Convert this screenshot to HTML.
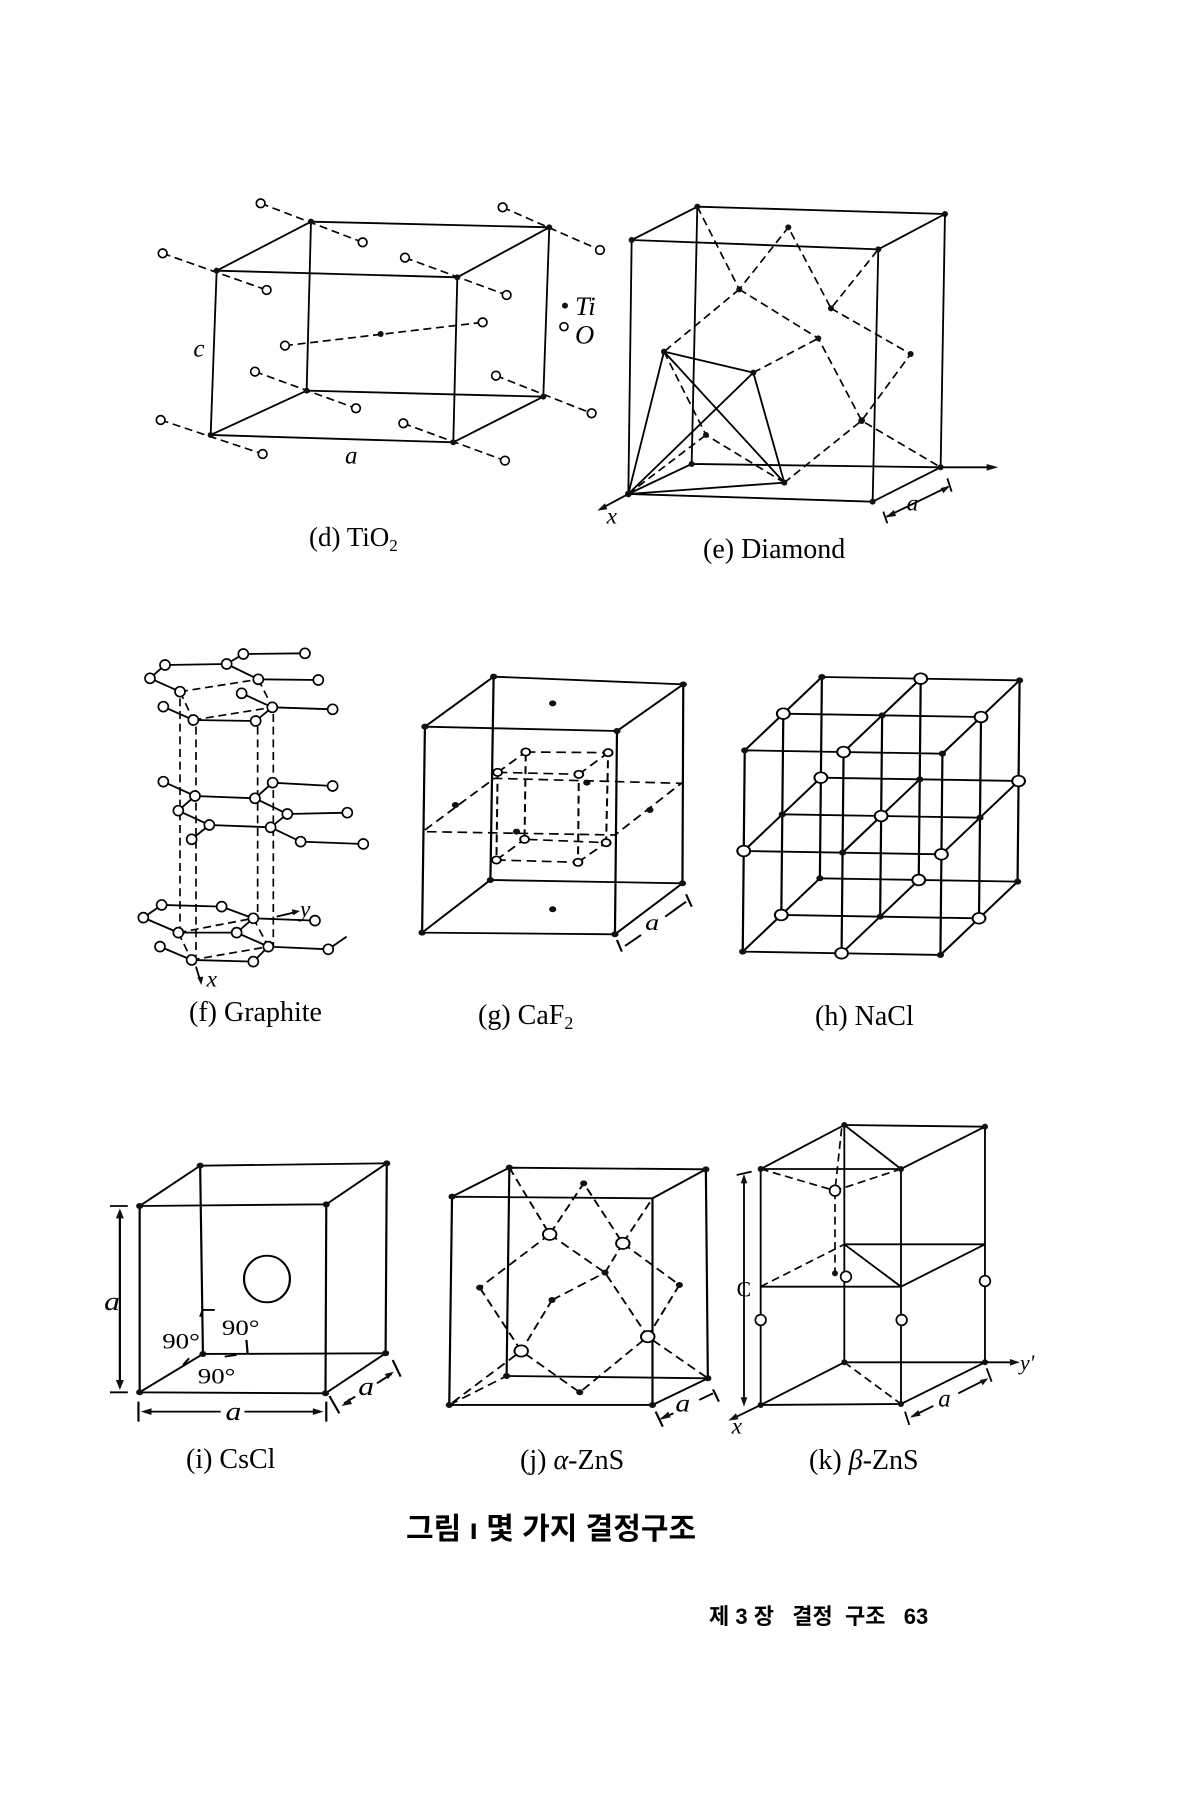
<!DOCTYPE html>
<html><head><meta charset="utf-8"><style>
html,body{margin:0;padding:0;background:#fff;}
svg{display:block;}
.s{stroke:#000;stroke-width:5.5;fill:none;}
.d{stroke:#000;stroke-width:5;fill:none;stroke-dasharray:24 14;}
.o{fill:#fff;stroke:#000;stroke-width:5;}
.k{fill:#111;}
.t{font-family:"Liberation Serif",serif;fill:#000;}
.i{font-family:"Liberation Serif",serif;font-style:italic;fill:#000;}
</style></head><body>
<svg width="1200" height="1800" viewBox="0 0 1200 1800" xmlns="http://www.w3.org/2000/svg">
<rect width="1200" height="1800" fill="#fff"/>

<!-- TiO2 -->
<g transform="translate(140,190) scale(0.3333)">
<path class="s" d="M230,242 L952,262 L940,757 L212,735 Z M513,95 L1228,112 L1210,620 L500,602 Z M230,242 L513,95 M952,262 L1228,112 M940,757 L1210,620 M212,735 L500,602"/>
<path class="d" d="M362,40 L668,157 M68,190 L380,300 M1088,52 L1380,180 M795,203 L1100,315 M435,467 L1028,397 M345,545 L648,655 M1068,557 L1355,670 M62,690 L368,792 M790,700 L1095,812"/>
<g class="o">
<circle cx="362" cy="40" r="13"/><circle cx="668" cy="157" r="13"/><circle cx="68" cy="190" r="13"/><circle cx="380" cy="300" r="13"/>
<circle cx="1088" cy="52" r="13"/><circle cx="1380" cy="180" r="13"/><circle cx="795" cy="203" r="13"/><circle cx="1100" cy="315" r="13"/>
<circle cx="435" cy="467" r="13"/><circle cx="1028" cy="397" r="13"/><circle cx="345" cy="545" r="13"/><circle cx="648" cy="655" r="13"/>
<circle cx="1068" cy="557" r="13"/><circle cx="1355" cy="670" r="13"/><circle cx="62" cy="690" r="13"/><circle cx="368" cy="792" r="13"/>
<circle cx="790" cy="700" r="13"/><circle cx="1095" cy="812" r="13"/><circle cx="1272" cy="410" r="12"/>
</g>
<g class="k">
<circle cx="230" cy="242" r="9"/><circle cx="952" cy="262" r="9"/><circle cx="940" cy="757" r="9"/><circle cx="212" cy="735" r="9"/>
<circle cx="513" cy="95" r="9"/><circle cx="1228" cy="112" r="9"/><circle cx="1210" cy="620" r="9"/><circle cx="500" cy="602" r="9"/>
<circle cx="722" cy="432" r="9"/><circle cx="1275" cy="347" r="9"/>
</g>
<text class="i" x="160" y="500" font-size="75">c</text>
<text class="i" x="615" y="820" font-size="75">a</text>
<text class="i" x="1305" y="375" font-size="80">Ti</text>
<text class="i" x="1305" y="460" font-size="80">O</text>
</g>
<text class="t" x="309" y="546" font-size="27">(d) TiO<tspan font-size="17" dy="5">2</tspan></text>

<!-- Diamond -->
<g transform="translate(590,190) scale(0.3333)">
<path class="s" d="M125,150 L865,178 L848,935 L115,912 Z M322,50 L1065,72 L1052,832 L305,822 M322,50 L305,822 M305,822 L1052,832 M125,150 L322,50 M865,178 L1065,72 M848,935 L1052,832 M115,912 L305,822"/>
<path class="d" d="M322,50 L448,298 L595,112 L723,355 L865,178 M448,298 L222,485 M448,298 L685,445 L815,692 L1052,832 M723,355 L962,492 L815,692 L583,878 M490,548 L685,445 M222,485 L348,735 L583,878 M115,912 L348,735"/>
<path class="s" d="M222,485 L490,548 L583,878 L115,912 Z M222,485 L583,878 M490,548 L115,912"/>
<g class="k">
<circle cx="125" cy="150" r="9"/><circle cx="865" cy="178" r="9"/><circle cx="848" cy="935" r="9"/><circle cx="115" cy="912" r="10"/>
<circle cx="322" cy="50" r="9"/><circle cx="1065" cy="72" r="9"/><circle cx="1052" cy="832" r="9"/><circle cx="305" cy="822" r="9"/>
<circle cx="595" cy="112" r="9"/><circle cx="448" cy="298" r="9"/><circle cx="723" cy="355" r="9"/><circle cx="685" cy="445" r="9"/>
<circle cx="962" cy="492" r="9"/><circle cx="222" cy="485" r="9"/><circle cx="490" cy="548" r="9"/><circle cx="348" cy="735" r="9"/>
<circle cx="815" cy="692" r="10"/><circle cx="583" cy="878" r="9"/>
</g>
<path class="s" d="M1052,832 L1210,832 M115,912 L35,955 M890,980 L1075,890 M880,965 L892,1000 M1072,865 L1085,905"/>
<path class="k" d="M1225,832 L1190,822 L1190,842 Z M22,962 L45,940 L52,958 Z M885,983 L912,960 L918,978 Z M1080,888 L1052,894 L1060,910 Z"/>
<text class="i" x="50" y="1000" font-size="70">x</text>
<text class="i" x="950" y="962" font-size="70">a</text>
</g>
<text class="t" x="703" y="558" font-size="28">(e) Diamond</text>

<!-- Graphite -->
<g transform="translate(110,640) scale(0.3333)">
<path class="d" d="M210,155 L445,118 M210,155 L250,240 M250,240 L487,202 M445,118 L487,202 M210,175 L210,870 M258,260 L258,950 M443,260 L443,835 M490,222 L490,920 M205,878 L430,835 M245,960 L475,920 M205,878 L245,960 M430,835 L475,920"/>
<path class="s" d="M165,75 L350,72 L400,42 L585,40 M120,115 L165,75 M120,115 L210,155 M350,72 L445,118 L625,120 M395,160 L487,202 L668,208 M250,240 L437,243 L487,202 M160,200 L250,240
M160,425 L255,468 L435,475 L488,428 L668,438 M255,468 L205,512 M435,475 L532,522 L712,518 M205,512 L298,555 L482,562 L532,522 M482,562 L572,605 L760,612 M298,555 L245,598
M155,795 L335,800 M100,833 L155,795 M100,833 L205,878 M335,800 L430,835 L615,842 M205,878 L380,878 L430,835 M380,878 L475,920 L655,928 L710,890 M150,920 L245,960 L430,965 L475,920
M500,830 L555,817 M258,980 L270,1020"/>
<path class="k" d="M570,813 L545,808 L550,826 Z M274,1035 L262,1012 L280,1010 Z"/>
<g class="o">
<circle cx="165" cy="75" r="15"/><circle cx="350" cy="72" r="15"/><circle cx="400" cy="42" r="15"/><circle cx="585" cy="40" r="15"/>
<circle cx="120" cy="115" r="15"/><circle cx="210" cy="155" r="15"/><circle cx="445" cy="118" r="15"/><circle cx="625" cy="120" r="15"/>
<circle cx="395" cy="160" r="15"/><circle cx="487" cy="202" r="15"/><circle cx="668" cy="208" r="15"/><circle cx="250" cy="240" r="15"/>
<circle cx="437" cy="243" r="15"/><circle cx="160" cy="200" r="15"/>
<circle cx="160" cy="425" r="15"/><circle cx="255" cy="468" r="15"/><circle cx="435" cy="475" r="15"/><circle cx="488" cy="428" r="15"/>
<circle cx="668" cy="438" r="15"/><circle cx="205" cy="512" r="15"/><circle cx="532" cy="522" r="15"/><circle cx="712" cy="518" r="15"/>
<circle cx="298" cy="555" r="15"/><circle cx="482" cy="562" r="15"/><circle cx="572" cy="605" r="15"/><circle cx="760" cy="612" r="15"/><circle cx="245" cy="598" r="15"/>
<circle cx="155" cy="795" r="15"/><circle cx="335" cy="800" r="15"/><circle cx="100" cy="833" r="15"/><circle cx="430" cy="835" r="15"/>
<circle cx="615" cy="842" r="15"/><circle cx="205" cy="878" r="15"/><circle cx="380" cy="878" r="15"/><circle cx="150" cy="920" r="15"/>
<circle cx="475" cy="920" r="15"/><circle cx="655" cy="928" r="15"/><circle cx="245" cy="960" r="15"/><circle cx="430" cy="965" r="15"/>
</g>
<text class="i" x="570" y="830" font-size="70">y</text>
<text class="i" x="290" y="1040" font-size="70">x</text>
</g>
<text class="t" x="189" y="1021" font-size="28">(f) Graphite</text>

<!-- CaF2 & NaCl -->
<g transform="translate(400,650) scale(0.4018,0.3333)">
<path class="s" d="M62,230 L540,243 L535,853 L55,848 Z M233,80 L705,103 L703,700 L225,690 Z M62,230 L233,80 M540,243 L705,103 M535,853 L703,700 M55,848 L225,690"/>
<path class="d" d="M62,540 L235,385 L700,400 L535,555 L62,545 M243,367 L445,373 L443,637 L240,630 Z M313,306 L518,308 L513,578 L310,568 Z M243,367 L313,306 M445,373 L518,308 M443,637 L513,578 M240,630 L310,568"/>
<g class="k">
<circle cx="62" cy="230" r="9"/><circle cx="540" cy="243" r="9"/><circle cx="535" cy="853" r="9"/><circle cx="55" cy="848" r="9"/>
<circle cx="233" cy="80" r="9"/><circle cx="705" cy="103" r="9"/><circle cx="703" cy="700" r="9"/><circle cx="225" cy="690" r="9"/>
<circle cx="380" cy="160" r="9"/><circle cx="380" cy="778" r="9"/><circle cx="138" cy="465" r="9"/><circle cx="622" cy="480" r="9"/>
<circle cx="465" cy="398" r="9"/><circle cx="290" cy="545" r="9"/>
</g>
<g class="o">
<circle cx="243" cy="367" r="11"/><circle cx="445" cy="373" r="11"/><circle cx="443" cy="637" r="11"/><circle cx="240" cy="630" r="11"/>
<circle cx="313" cy="306" r="11"/><circle cx="518" cy="308" r="11"/><circle cx="513" cy="578" r="11"/><circle cx="310" cy="568" r="11"/>
</g>
<path class="s" d="M540,870 L552,905 M712,733 L726,770 M560,888 L600,855 M660,800 L712,755"/>
<text class="i" x="610" y="840" font-size="70">a</text>

<path class="s" d="M853,905 L1345,915 M855.5,603 L1347.5,613 M858,301 L1350,311 M949,795 L1441,805 M951.5,493 L1443.5,503 M954,191 L1446,201 M1045,685 L1537,695 M1047.5,383 L1539.5,393 M1050,81 L1542,91
M853,905 L858,301 M1099,910 L1104,306 M1345,915 L1350,311 M949,795 L954,191 M1195,800 L1200,196 M1441,805 L1446,201 M1045,685 L1050,81 M1291,690 L1296,86 M1537,695 L1542,91
M853,905 L1045,685 M855.5,603 L1047.5,383 M858,301 L1050,81 M1099,910 L1291,690 M1101.5,608 L1293.5,388 M1104,306 L1296,86 M1345,915 L1537,695 M1347.5,613 L1539.5,393 M1350,311 L1542,91"/>
<g class="k">
<circle cx="853" cy="905" r="9"/><circle cx="1345" cy="915" r="9"/><circle cx="1101.5" cy="608" r="9"/><circle cx="858" cy="301" r="9"/><circle cx="1350" cy="311" r="9"/>
<circle cx="1195" cy="800" r="9"/><circle cx="951.5" cy="493" r="9"/><circle cx="1443.5" cy="503" r="9"/><circle cx="1200" cy="196" r="9"/>
<circle cx="1045" cy="685" r="9"/><circle cx="1537" cy="695" r="9"/><circle cx="1293.5" cy="388" r="9"/><circle cx="1050" cy="81" r="9"/><circle cx="1542" cy="91" r="9"/>
</g>
<g class="o">
<circle cx="1099" cy="910" r="16"/><circle cx="855.5" cy="603" r="16"/><circle cx="1347.5" cy="613" r="16"/><circle cx="1104" cy="306" r="16"/>
<circle cx="949" cy="795" r="16"/><circle cx="1441" cy="805" r="16"/><circle cx="1197.5" cy="498" r="16"/><circle cx="954" cy="191" r="16"/><circle cx="1446" cy="201" r="16"/>
<circle cx="1291" cy="690" r="16"/><circle cx="1047.5" cy="383" r="16"/><circle cx="1539.5" cy="393" r="16"/><circle cx="1296" cy="86" r="16"/>
</g>
</g>
<text class="t" x="478" y="1024" font-size="28">(g) CaF<tspan font-size="18" dy="5">2</tspan></text>
<text class="t" x="815" y="1025" font-size="28">(h) NaCl</text>

<!-- CsCl & alpha-ZnS -->
<g transform="translate(110,1100) scale(0.3954,0.3333)">
<path class="s" d="M75,318 L547,313 L545,880 L75,877 Z M228,197 L700,190 L697,760 L235,762 Z M75,318 L228,197 M547,313 L700,190 M545,880 L697,760 M75,877 L235,762"/>
<ellipse class="s" cx="397" cy="537" rx="58" ry="70" stroke-width="7"/>
<g class="k">
<circle cx="75" cy="318" r="9"/><circle cx="547" cy="313" r="9"/><circle cx="545" cy="880" r="9"/><circle cx="75" cy="877" r="9"/>
<circle cx="228" cy="197" r="9"/><circle cx="700" cy="190" r="9"/><circle cx="697" cy="760" r="9"/><circle cx="235" cy="762" r="9"/>
</g>
<path class="s" d="M25,340 L25,855 M0,318 L45,318 M0,877 L45,877 M95,935 L280,935 M340,935 L525,935 M72,905 L72,965 M547,905 L547,965 M555,888 L580,940 M715,780 L735,830 M592,910 L620,890 M675,850 L712,822 M228,650 L235,630 L265,630 M345,720 L348,760 M185,795 L200,775 M290,770 L320,765"/>
<path class="k" d="M25,325 L15,355 L35,355 Z M25,870 L15,840 L35,840 Z M78,935 L105,925 L105,945 Z M540,935 L513,925 L513,945 Z M585,918 L605,895 L612,912 Z M718,815 L695,822 L703,838 Z"/>
<text class="i" x="-15" y="630" font-size="80">a</text>
<text class="i" x="292" y="960" font-size="80">a</text>
<text class="i" x="628" y="885" font-size="80">a</text>
<text class="t" x="132" y="745" font-size="68">90°</text>
<text class="t" x="283" y="705" font-size="68">90°</text>
<text class="t" x="222" y="850" font-size="68">90°</text>

<path class="s" d="M865,290 L1372,295 L1372,915 L858,915 Z M1010,203 L1507,208 L1512,835 L1003,828 Z M865,290 L1010,203 M1372,295 L1507,208 M1372,915 L1512,835"/>
<path class="d" d="M858,915 L1003,828 M1010,203 L1112,403 L1198,250 L1297,430 L1372,295 M1112,403 L935,563 M1297,430 L1440,555 M1112,403 L1252,518 L1360,710 L1512,835 M1252,518 L1297,430 M1440,555 L1360,710 L1188,877 L1040,753 L935,563 M1118,600 L1252,518 M1118,600 L1040,753 L858,915"/>
<g class="k">
<circle cx="865" cy="290" r="9"/><circle cx="1372" cy="915" r="9"/><circle cx="858" cy="915" r="9"/>
<circle cx="1010" cy="203" r="9"/><circle cx="1507" cy="208" r="9"/><circle cx="1512" cy="835" r="9"/><circle cx="1003" cy="828" r="9"/>
<circle cx="1198" cy="250" r="9"/><circle cx="1252" cy="518" r="9"/><circle cx="935" cy="563" r="9"/><circle cx="1118" cy="600" r="9"/>
<circle cx="1440" cy="555" r="9"/><circle cx="1188" cy="877" r="9"/>
</g>
<g class="o">
<circle cx="1112" cy="403" r="17"/><circle cx="1297" cy="430" r="17"/><circle cx="1040" cy="753" r="17"/><circle cx="1360" cy="710" r="17"/>
</g>
<path class="s" d="M1380,935 L1398,980 M1525,868 L1540,905 M1395,955 L1425,940 M1490,900 L1525,880"/>
<path class="k" d="M1388,960 L1412,935 L1418,952 Z"/>
<text class="i" x="1430" y="935" font-size="75">a</text>
</g>
<text class="t" x="186" y="1468" font-size="28">(i) CsCl</text>
<text class="t" x="520" y="1469" font-size="28">(j) <tspan font-style="italic">α</tspan>-ZnS</text>

<!-- beta-ZnS -->
<g transform="translate(720,1100) scale(0.3333)">
<path class="s" d="M373,75 L795,80 L543,207 L122,207 Z M373,75 L543,207 M373,433 L795,433 L543,560 L122,560 M373,433 L543,560 M373,787 L795,787 M543,912 L122,915 L373,787 M543,912 L795,787 M122,207 L122,915 M543,207 L543,912 M795,80 L795,787 M373,75 L373,787"/>
<path class="d" d="M122,560 L373,433 M373,787 L543,912 M122,207 L345,272 L543,207 M365,85 L345,272 L345,520"/>
<g class="k">
<circle cx="373" cy="75" r="9"/><circle cx="795" cy="80" r="9"/><circle cx="543" cy="207" r="9"/><circle cx="122" cy="207" r="9"/>
<circle cx="373" cy="787" r="9"/><circle cx="795" cy="787" r="9"/><circle cx="543" cy="912" r="9"/><circle cx="122" cy="915" r="9"/><circle cx="345" cy="520" r="9"/>
</g>
<g class="o">
<circle cx="345" cy="272" r="16"/><circle cx="378" cy="530" r="16"/><circle cx="795" cy="543" r="16"/><circle cx="122" cy="660" r="16"/><circle cx="545" cy="660" r="16"/>
</g>
<path class="s" d="M795,787 L880,787 M122,915 L40,955 M72,240 L72,900 M50,225 L95,215 M555,935 L568,975 M800,805 L815,845 M575,950 L640,918 M715,880 L795,840"/>
<path class="k" d="M900,787 L870,777 L870,797 Z M25,962 L48,940 L55,958 Z M72,222 L62,250 L82,250 Z M72,920 L62,892 L82,892 Z M570,953 L595,930 L602,947 Z M805,835 L780,840 L788,856 Z"/>
<text class="t" x="50" y="590" font-size="65">C</text>
<text class="i" x="900" y="810" font-size="65">y'</text>
<text class="i" x="35" y="1000" font-size="70">x</text>
<text class="i" x="655" y="920" font-size="75">a</text>
</g>
<text class="t" x="809" y="1469" font-size="28">(k) <tspan font-style="italic">β</tspan>-ZnS</text>

<text x="406" y="1539" font-family="'Liberation Sans','Noto Sans CJK KR',sans-serif" font-size="30" font-weight="bold">그림 ı  몇 가지 결정구조</text>
<text x="709" y="1624" font-family="'Liberation Sans','Noto Sans CJK KR',sans-serif" font-size="22" font-weight="bold" xml:space="preserve">제 3 장   결정  구조   63</text>
</svg>
</body></html>
